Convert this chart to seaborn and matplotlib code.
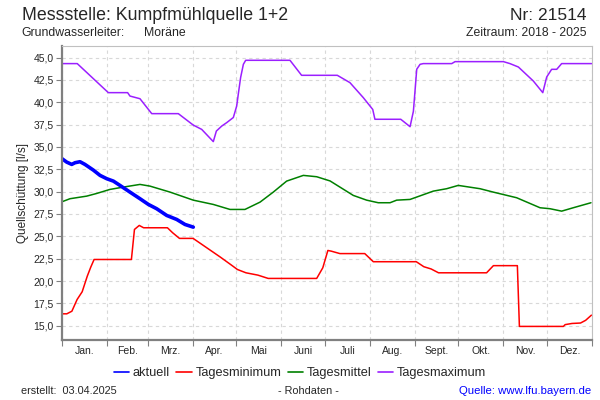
import matplotlib
matplotlib.use("Agg")
import matplotlib.pyplot as plt
import seaborn as sns
import pandas as pd

# ---- data (day of year, l/s) ----
max_day = [0, 10.5, 31.9, 45.2, 46.8, 53.7, 61.8, 80.1, 90.4, 96.2, 104.2, 106.3, 110, 113.4,
           118, 120.3, 121.4, 123, 124.9, 126.5, 157, 165, 189.6, 198.3, 207.5, 214, 215.5,
           233.3, 239.7, 242, 244.3, 246.6, 248.8, 268.4, 270.7, 304, 308.5, 314.3, 324.6,
           331.1, 333.8, 337.2, 340.7, 344.1, 364.8]
max_val = [44.33, 44.33, 41.08, 41.08, 40.7, 40.4, 38.73, 38.73, 37.45, 36.97, 35.6, 36.78, 37.34, 37.72,
           38.3, 39.58, 40.9, 42.76, 44.25, 44.7, 44.7, 43.02, 43.02, 42.2, 40.52, 39.2, 38.1,
           38.1, 37.27, 39.0, 43.7, 44.25, 44.33, 44.33, 44.55, 44.55, 44.33, 43.95, 42.38,
           41.08, 42.83, 43.69, 43.69, 44.33, 44.33]

min_day = [0, 3.3, 6.8, 10.4, 13.9, 17.4, 19.8, 22.1, 47.8, 49.9, 53.2, 56.2, 72.6, 76.2, 80.9, 90.3,
           99.7, 109.1, 116.1, 120.8, 126.7, 134.9, 142, 175.4, 179.6, 183.1, 185.5, 191.4,
           208.5, 214.4, 244.0, 249.2, 254.2, 259.3, 292.4, 297.1, 313.6, 315.0, 345.3, 346.5,
           351.2, 357.1, 360.6, 364.6]
min_val = [16.33, 16.33, 16.62, 17.93, 18.8, 20.54, 21.55, 22.41, 22.41, 25.77, 26.22, 25.96, 25.96, 25.4, 24.77, 24.77,
           23.72, 22.67, 21.85, 21.29, 20.92, 20.66, 20.29, 20.29, 21.48, 23.42, 23.34, 23.07,
           23.07, 22.16, 22.16, 21.6, 21.35, 20.92, 20.92, 21.72, 21.72, 14.92, 14.92, 15.12,
           15.25, 15.3, 15.6, 16.18]

mean_day = [0, 5.5, 17, 23.9, 33, 42.2, 53.7, 60.6, 74.4, 90.4, 104.2, 115.7, 126, 136.4, 145.5,
            154.7, 166.2, 175.4, 184.6, 200.6, 209.8, 217.8, 225.9, 230.5, 239.7, 255.7, 264.9,
            272.9, 287.9, 297, 313.1, 329.2, 336.1, 344.1, 352.1, 364.3]
mean_val = [28.87, 29.21, 29.5, 29.8, 30.25, 30.51, 30.81, 30.62, 29.95, 29.05, 28.57, 28.01, 28.01, 28.83, 29.95,
            31.18, 31.82, 31.67, 31.2, 29.58, 29.05, 28.76, 28.76, 29.05, 29.13, 30.06, 30.33,
            30.7, 30.33, 29.95, 29.32, 28.2, 28.09, 27.82, 28.2, 28.76]

akt_day = [0, 3.2, 6.7, 9, 12.4, 15.8, 21.6, 26.2, 30.8, 35.4, 39.9, 46.8, 53.7, 59.5, 65.2,
           72.1, 79, 84.7, 90.4]
akt_val = [33.69, 33.31, 33.05, 33.24, 33.35, 33.05, 32.41, 31.82, 31.45, 31.18, 30.7, 29.95, 29.21, 28.57, 28.09,
           27.34, 26.89, 26.33, 26.03]

month_starts = [0, 31, 59, 90, 120, 151, 181, 212, 243, 273, 304, 334, 365]
month_labels = ["Jan.", "Feb.", "Mrz.", "Apr.", "Mai", "Juni", "Juli", "Aug.", "Sept.", "Okt.", "Nov.", "Dez."]
y_ticks = [15.0, 17.5, 20.0, 22.5, 25.0, 27.5, 30.0, 32.5, 35.0, 37.5, 40.0, 42.5, 45.0]

sns.set_style("white")
plt.rcParams['font.family'] = ['Liberation Sans', 'DejaVu Sans']

fig = plt.figure(figsize=(6, 4), dpi=100)
ax = fig.add_axes([62/600, 1-340/400, 530/600, 294/400])

series = [
    (max_day, max_val, "#9b1fff", 1.1),
    (mean_day, mean_val, "#008000", 1.1),
    (min_day, min_val, "#ff0000", 1.1),
    (akt_day, akt_val, "#0000ff", 2.6),
]
for d, v, c, lw in series:
    df = pd.DataFrame({"Tag": d, "Wert": v})
    sns.lineplot(data=df, x="Tag", y="Wert", ax=ax, color=c, linewidth=lw, legend=False, estimator=None)

ax.set_xlim(0, 365)
ax.set_ylim(13.4, 46.3)
ax.set_xlabel("")
ax.set_ylabel("Quellschüttung [l/s]", fontsize=8.5, labelpad=3)

ax.set_xticks(month_starts)
ax.set_xticklabels([])
mids = [(month_starts[i] + month_starts[i+1]) / 2 for i in range(12)]
ax.set_xticks(mids, minor=True)
ax.set_xticklabels(month_labels, minor=True, fontsize=7.5)
ax.tick_params(axis='x', which='major', length=4, width=0.8, color='#808080', direction='out')
ax.tick_params(axis='x', which='minor', length=0, pad=4)
ax.set_yticks(y_ticks)
ax.set_yticklabels([f"{t:.1f}".replace(".", ",") for t in y_ticks], fontsize=7.5)
ax.tick_params(axis='y', length=4, width=0.8, color='#808080', direction='out', pad=2)
ax.tick_params(axis='both', which='both', left=True, bottom=True)

ax.grid(True, which='major', color='#d8d8d8', linestyle=(0, (3, 3)), linewidth=0.8)
ax.set_axisbelow(True)
for side in ['left', 'bottom']:
    ax.spines[side].set_color('#808080')
    ax.spines[side].set_linewidth(1.6)
for side in ['top', 'right']:
    ax.spines[side].set_color('#c0c0c0')
    ax.spines[side].set_linewidth(0.8)

fig.text(22/600, 1-16/400, "Messstelle: Kumpfmühlquelle 1+2", fontsize=12.8, va='center', ha='left')
fig.text(587/600, 1-16/400, "Nr: 21514", fontsize=12.5, va='center', ha='right')
fig.text(21/600, 1-33/400, "Grundwasserleiter:", fontsize=8.8, va='center', ha='left')
fig.text(144/600, 1-33/400, "Moräne", fontsize=8.8, va='center', ha='left')
fig.text(587/600, 1-33/400, "Zeitraum: 2018 - 2025", fontsize=8.8, va='center', ha='right')

handles = [plt.Line2D([], [], color=c, linewidth=1.2) for c in ["#0000ff", "#ff0000", "#008000", "#9b1fff"]]
fig.legend(handles, ["aktuell", "Tagesminimum", "Tagesmittel", "Tagesmaximum"], loc='center',
           bbox_to_anchor=(300/600, 1-373/400), ncol=4, frameon=False, fontsize=9.2,
           handlelength=1.2, handletextpad=0.3, columnspacing=0.5)

fig.text(21/600, 1-391/400, "erstellt:  03.04.2025", fontsize=7.8, va='center', ha='left')
fig.text(308/600, 1-391/400, "- Rohdaten -", fontsize=7.8, va='center', ha='center')
fig.text(591/600, 1-391/400, "Quelle: www.lfu.bayern.de", fontsize=8.2, va='center', ha='right', color='#0000ff')

fig.savefig("out.png", dpi=100)
